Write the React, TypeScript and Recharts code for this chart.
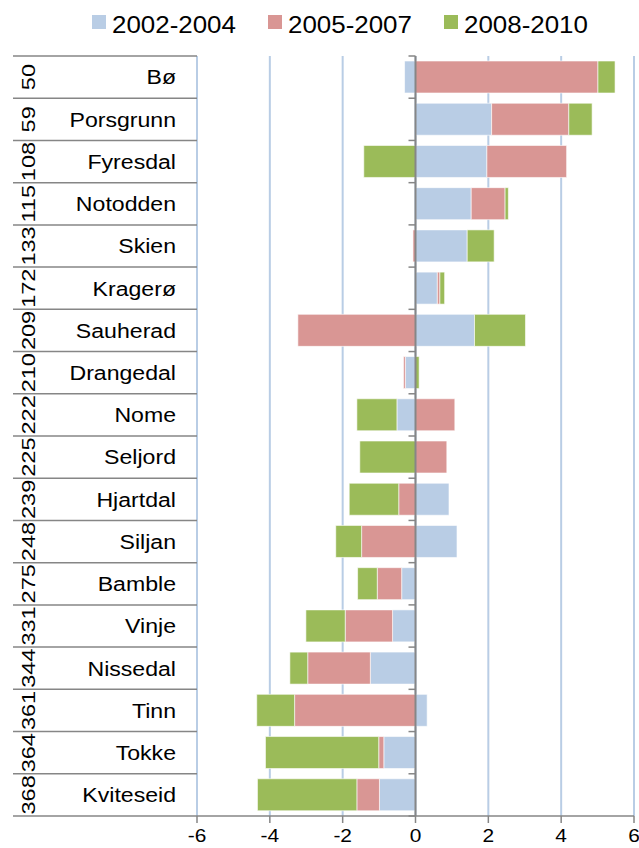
import React from 'react';
import { BarChart, Bar, XAxis, YAxis, CartesianGrid, ReferenceLine, Legend } from 'recharts';

const ranks = ['50', '59', '108', '115', '133', '172', '209', '210', '222', '225', '239', '248', '275', '331', '344', '361', '364', '368'];
const names = ['Bø', 'Porsgrunn', 'Fyresdal', 'Notodden', 'Skien', 'Kragerø', 'Sauherad', 'Drangedal', 'Nome', 'Seljord', 'Hjartdal', 'Siljan', 'Bamble', 'Vinje', 'Nissedal', 'Tinn', 'Tokke', 'Kviteseid'];
const p2002 = [-0.30, 2.09, 1.96, 1.53, 1.42, 0.60, 1.62, -0.28, -0.51, 0, 0.92, 1.14, -0.38, -0.63, -1.24, 0.32, -0.87, -0.99];
const p2005 = [5.01, 2.12, 2.19, 0.93, -0.07, 0.07, -3.23, -0.05, 1.08, 0.86, -0.46, -1.48, -0.67, -1.30, -1.72, -3.32, -0.14, -0.62];
const p2008 = [0.47, 0.64, -1.42, 0.09, 0.74, 0.13, 1.40, 0.10, -1.10, -1.53, -1.36, -0.71, -0.54, -1.08, -0.49, -1.04, -3.11, -2.73];
const seriesNames = ['2002-2004', '2005-2007', '2008-2010'];
const seriesColors = ['#B9CDE5', '#D99694', '#9BBB59'];
const xTicks = [-6, -4, -2, 0, 2, 4, 6];

const data = names.map((n, i) => ({ name: n, rank: ranks[i], a: p2002[i], b: p2005[i], c: p2008[i] }));

const W = 639;
const H = 848;
const MARGIN = { top: 56, right: 5, bottom: 0, left: 13 };
const YW = 184;
const XH = 32;
const PLOT_LEFT = MARGIN.left + YW;
const PLOT_W = W - MARGIN.right - PLOT_LEFT;
const PLOT_H = H - MARGIN.top - XH;
const BAND = PLOT_H / names.length;
const ZERO_X = PLOT_LEFT + PLOT_W / 2;
const FONT = '"Liberation Sans", Arial, sans-serif';
const AXIS_GRAY = '#868686';

const YTick = (props: any) => {
  const { y, index } = props;
  const top = y - BAND / 2;
  const bottom = y + BAND / 2;
  const last = index === names.length - 1;
  return (
    <g>
      <line x1={MARGIN.left} x2={PLOT_LEFT} y1={top} y2={top} stroke={AXIS_GRAY} strokeWidth={1.5} />
      {last && <line x1={MARGIN.left} x2={PLOT_LEFT} y1={bottom} y2={bottom} stroke={AXIS_GRAY} strokeWidth={1.5} />}
      <line x1={ZERO_X - 7} x2={ZERO_X} y1={top} y2={top} stroke={AXIS_GRAY} strokeWidth={1.5} />
      {last && <line x1={ZERO_X - 7} x2={ZERO_X} y1={bottom} y2={bottom} stroke={AXIS_GRAY} strokeWidth={1.5} />}
      <text
        transform={`translate(29,${y}) rotate(-90) scale(1.12,0.88)`}
        textAnchor="middle"
        dy="0.35em"
        fontSize={21}
        fontFamily={FONT}
        fill="#000"
      >
        {ranks[index]}
      </text>
      <text
        transform={`translate(176,${y}) scale(1.1,1)`}
        textAnchor="end"
        dy="0.35em"
        fontSize={21}
        fontFamily={FONT}
        fill="#000"
      >
        {props.payload.value}
      </text>
    </g>
  );
};

const XTick = (props: any) => {
  const { x, y, payload } = props;
  return (
    <text
      transform={`translate(${x},${y}) scale(1.1,1)`}
      textAnchor="middle"
      dy="0.71em"
      fontSize={19}
      fontFamily={FONT}
      fill="#000"
    >
      {payload.value}
    </text>
  );
};

const LegendContent = () => (
  <svg width={W} height={45} style={{ display: 'block' }}>
    {seriesNames.map((s, i) => {
      const x0 = 92 + i * 176;
      return (
        <g key={s}>
          <rect x={x0} y={15} width={14} height={14} fill={seriesColors[i]} />
          <text
            transform={`translate(${x0 + 20},33) scale(1.08,1)`}
            fontSize={24}
            fontFamily={FONT}
            fill="#000"
          >
            {s}
          </text>
        </g>
      );
    })}
  </svg>
);

export default function App() {
  return (
    <div style={{ position: 'absolute', left: 0, top: 0, width: W, height: H, background: '#fff' }}>
      <BarChart
        width={W}
        height={H}
        data={data}
        layout="vertical"
        stackOffset="sign"
        margin={MARGIN}
        barSize={32}
      >
        <CartesianGrid horizontal={false} vertical={true} stroke="#B9CDE5" strokeWidth={2} />
        <XAxis
          type="number"
          domain={[-6, 6]}
          ticks={xTicks}
          interval={0}
          height={XH}
          stroke={AXIS_GRAY}
          axisLine={{ stroke: AXIS_GRAY, strokeWidth: 1.5 }}
          tickLine={{ stroke: AXIS_GRAY, strokeWidth: 1.5 }}
          tickSize={7}
          tickMargin={6}
          tick={<XTick />}
        />
        <YAxis
          type="category"
          dataKey="name"
          width={YW}
          axisLine={false}
          tickLine={false}
          interval={0}
          tick={<YTick />}
        />
        <Legend
          verticalAlign="middle"
          align="center"
          layout="horizontal"
          wrapperStyle={{ top: 0, left: 0, width: W, height: 45 }}
          content={<LegendContent />}
        />
        <Bar dataKey="a" name={seriesNames[0]} stackId="s" fill={seriesColors[0]} stroke="#ffffff" strokeOpacity={0.6} strokeWidth={1} isAnimationActive={false} />
        <Bar dataKey="b" name={seriesNames[1]} stackId="s" fill={seriesColors[1]} stroke="#ffffff" strokeOpacity={0.6} strokeWidth={1} isAnimationActive={false} />
        <Bar dataKey="c" name={seriesNames[2]} stackId="s" fill={seriesColors[2]} stroke="#ffffff" strokeOpacity={0.6} strokeWidth={1} isAnimationActive={false} />
        <ReferenceLine x={0} stroke={AXIS_GRAY} strokeWidth={2} />
      </BarChart>
    </div>
  );
}
